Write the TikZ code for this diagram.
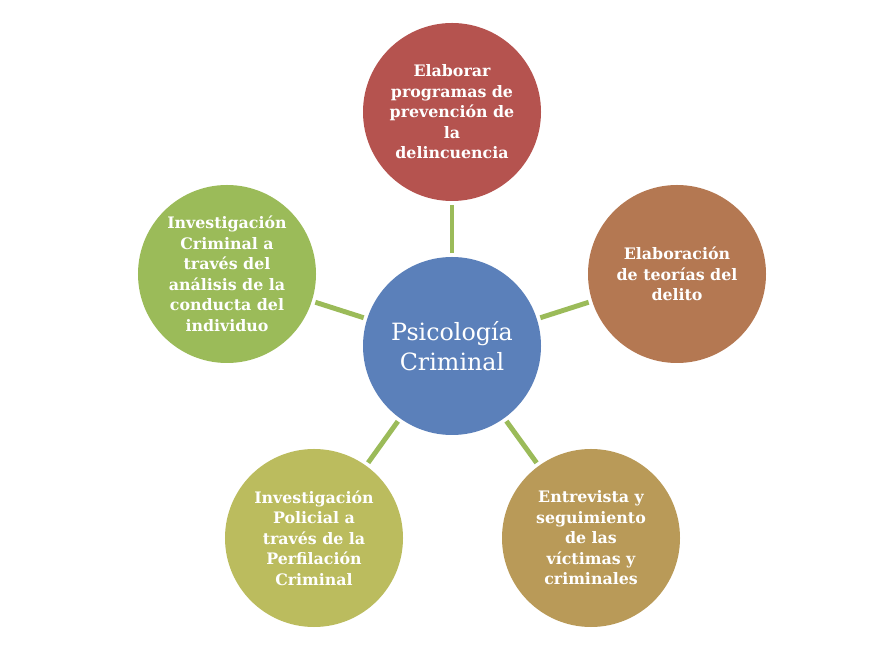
\documentclass[tikz,border=0pt]{standalone}
\usepackage{fontspec}
\setmainfont{DejaVu Serif}
\definecolor{centroBlue}{HTML}{5B80BA}
\definecolor{rojoTema}{HTML}{B5534F}
\definecolor{cafeTema}{HTML}{B47852}
\definecolor{oroTema}{HTML}{B99A58}
\definecolor{olivaTema}{HTML}{BBBC5E}
\definecolor{verdeTema}{HTML}{9BBB59}
\begin{document}
\begin{tikzpicture}[x=0.03cm,y=0.03cm,
		tema/.style={circle,minimum size=5.34cm,inner sep=0pt,align=center,text=white,font=\mytextbold},
		enlace/.style={verdeTema,line width=4.2pt,shorten <=3pt,shorten >=3pt}]
			\newcommand{\mytextbold}{%
				\fontsize{13.5}{17.5}\selectfont\bfseries
			}\newcommand{\mytextcentro}{%
				\fontsize{20.3}{25.5}\selectfont
			}%Bounding box
			\useasboundingbox (0,0) rectangle (892,646);
			%Center circle
			\node [tema,fill=centroBlue,font=\mytextcentro] (psico) at (452,300) {Psicolog\'ia\\Criminal};
			%Outer circles
			\node [tema,fill=rojoTema] (prog) at (452,534) {Elaborar\\programas de\\prevenci\'on de\\la\\delincuencia};
			\node [tema,fill=cafeTema] (teorias) at (677,372) {Elaboraci\'on\\de teor\'ias del\\delito};
			\node [tema,fill=oroTema] (entrevista) at (591,108) {Entrevista y\\seguimiento\\de las\\v\'ictimas y\\criminales};
			\node [tema,fill=olivaTema] (perfil) at (314,108) {Investigaci\'on\\Policial a\\trav\'es de la\\Perfilaci\'on\\Criminal};
			\node [tema,fill=verdeTema] (conducta) at (227,372) {Investigaci\'on\\Criminal a\\trav\'es del\\an\'alisis de la\\conducta del\\individuo};
			%Connectors
			\foreach \t in {prog,teorias,entrevista,perfil,conducta} {
				\draw [enlace] (psico) -- (\t);
			}
\end{tikzpicture}
\end{document}
